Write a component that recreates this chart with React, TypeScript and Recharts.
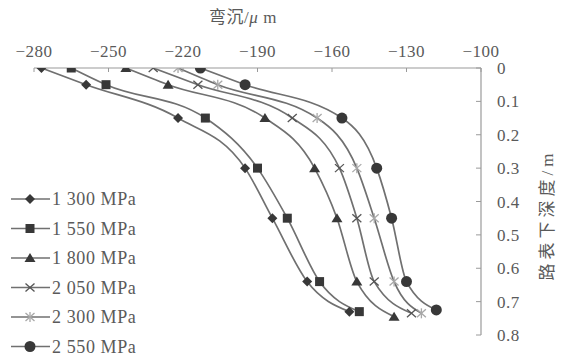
import React from 'react';
import { LineChart, Line, XAxis, YAxis } from 'recharts';

const seriesNames = ['1 300 MPa', '1 550 MPa', '1 800 MPa', '2 050 MPa', '2 300 MPa', '2 550 MPa'];
const markerShapes = ['diamond', 'square', 'triangle', 'cross', 'star', 'circle'];

const depth1300 = [0, 0.05, 0.15, 0.3, 0.45, 0.64, 0.73];
const depth1550 = [0, 0.05, 0.15, 0.3, 0.45, 0.64, 0.73];
const depth1800 = [0, 0.05, 0.15, 0.3, 0.45, 0.64, 0.745];
const depth2050 = [0, 0.05, 0.15, 0.3, 0.45, 0.64, 0.735];
const depth2300 = [0, 0.05, 0.15, 0.3, 0.45, 0.64, 0.735];
const depth2550 = [0, 0.05, 0.15, 0.3, 0.45, 0.64, 0.725];

const defl1300 = [-277, -259, -222, -195, -184, -170, -153];
const defl1550 = [-265, -251, -211, -190, -178, -165, -149];
const defl1800 = [-243, -226, -187, -167, -158, -150, -135];
const defl2050 = [-232, -214, -176, -157, -150, -143, -128];
const defl2300 = [-222, -206, -166, -150, -143, -135, -124];
const defl2550 = [-213, -195, -156, -142, -136, -130, -118];

const xTicks = [-280, -250, -220, -190, -160, -130, -100];
const yTicks = [0, 0.1, 0.2, 0.3, 0.4, 0.5, 0.6, 0.7, 0.8];

const build = (xs: number[], ds: number[]) => xs.map((x, i) => ({ x, y: ds[i] }));
const seriesData = [
  build(defl1300, depth1300),
  build(defl1550, depth1550),
  build(defl1800, depth1800),
  build(defl2050, depth2050),
  build(defl2300, depth2300),
  build(defl2550, depth2550),
];

const SERIF = '"Liberation Serif", "Times New Roman", "Noto Sans CJK SC", serif';
const TEXT = '#5a5a5a';
const LINE = '#707070';
const MARK = '#383838';

function Marker({ shape, cx, cy }: { shape: string; cx: number; cy: number }) {
  if (cx == null || cy == null || isNaN(cx) || isNaN(cy)) return null;
  switch (shape) {
    case 'diamond':
      return <path d={`M${cx},${cy - 5}L${cx + 5},${cy}L${cx},${cy + 5}L${cx - 5},${cy}Z`} fill={MARK} />;
    case 'square':
      return <rect x={cx - 4.5} y={cy - 4.5} width={9} height={9} fill={MARK} />;
    case 'triangle':
      return <path d={`M${cx},${cy - 5}L${cx + 5.5},${cy + 4}L${cx - 5.5},${cy + 4}Z`} fill={MARK} />;
    case 'cross':
      return (
        <g stroke="#555" strokeWidth={1.3}>
          <line x1={cx - 4.5} y1={cy - 4} x2={cx + 4.5} y2={cy + 4} />
          <line x1={cx - 4.5} y1={cy + 4} x2={cx + 4.5} y2={cy - 4} />
        </g>
      );
    case 'star':
      return (
        <g stroke="#a8a8a8" strokeWidth={1.3}>
          <line x1={cx - 4.5} y1={cy - 4} x2={cx + 4.5} y2={cy + 4} />
          <line x1={cx - 4.5} y1={cy + 4} x2={cx + 4.5} y2={cy - 4} />
          <line x1={cx} y1={cy - 5} x2={cx} y2={cy + 5} />
        </g>
      );
    default:
      return <circle cx={cx} cy={cy} r={5.5} fill={MARK} />;
  }
}

const fmt = (v: number) => String(v).replace('-', '\u2212');

function LegendBox() {
  return (
    <svg width={200} height={180} style={{ position: 'absolute', left: 0, top: 180, display: 'block' }}>
      {seriesNames.map((name, i) => {
        const cy = 19 + i * 29.5;
        return (
          <g key={name}>
            <line x1={11} y1={cy} x2={50} y2={cy} stroke={LINE} strokeWidth={1.6} />
            <Marker shape={markerShapes[i]} cx={30} cy={cy} />
            <text x={52} y={cy + 6} fontFamily={SERIF} fontSize={18} letterSpacing={0.6} fill={TEXT}>
              {name}
            </text>
          </g>
        );
      })}
    </svg>
  );
}

export default function App() {
  return (
    <div style={{ position: 'absolute', left: 0, top: 0, width: 564, height: 358, background: '#fff' }}>
      <LineChart width={564} height={358} margin={{ top: 38, right: 44, bottom: 23, left: 34 }}>
        <XAxis
          type="number"
          dataKey="x"
          orientation="top"
          domain={[-280, -100]}
          ticks={xTicks}
          height={30}
          allowDataOverflow
          axisLine={{ stroke: '#9a9a9a', strokeWidth: 1.2 }}
          tickLine={{ stroke: '#9a9a9a' }}
          tickSize={-4}
          tickMargin={15}
          tick={{ fill: TEXT, fontSize: 17, fontFamily: SERIF, letterSpacing: 0.5 }}
          tickFormatter={fmt}
          label={{
            content: () => (
              <text x={243} y={23} textAnchor="middle" fontFamily={SERIF} fontSize={17} letterSpacing={0.5} fill={TEXT}>
                弯沉/<tspan fontStyle="italic">μ</tspan> m
              </text>
            ),
          }}
        />
        <YAxis
          type="number"
          dataKey="y"
          orientation="right"
          reversed
          domain={[0, 0.8]}
          ticks={yTicks}
          width={39}
          allowDataOverflow
          axisLine={{ stroke: '#9a9a9a', strokeWidth: 1.2 }}
          tickLine={{ stroke: '#9a9a9a' }}
          tickSize={-5}
          tickMargin={21}
          tick={{ fill: TEXT, fontSize: 17, fontFamily: SERIF, textAnchor: 'start', letterSpacing: 0.5 }}
          label={{
            content: () => (
              <text
                x={549}
                y={215}
                textAnchor="middle"
                dominantBaseline="middle"
                transform="rotate(-90 549 215)"
                fontFamily={SERIF}
                fontSize={17}
                letterSpacing={4}
                fill={TEXT}
              >
                路表下深度/m
              </text>
            ),
          }}
        />
        {seriesData.map((data, i) => (
          <Line
            key={seriesNames[i]}
            name={seriesNames[i]}
            data={data}
            dataKey="y"
            type="monotone"
            stroke={LINE}
            strokeWidth={1.7}
            isAnimationActive={false}
            dot={(p: any) => <Marker key={`${i}-${p.index}`} shape={markerShapes[i]} cx={p.cx} cy={p.cy} />}
            activeDot={false}
          />
        ))}
      </LineChart>
      <LegendBox />
    </div>
  );
}
